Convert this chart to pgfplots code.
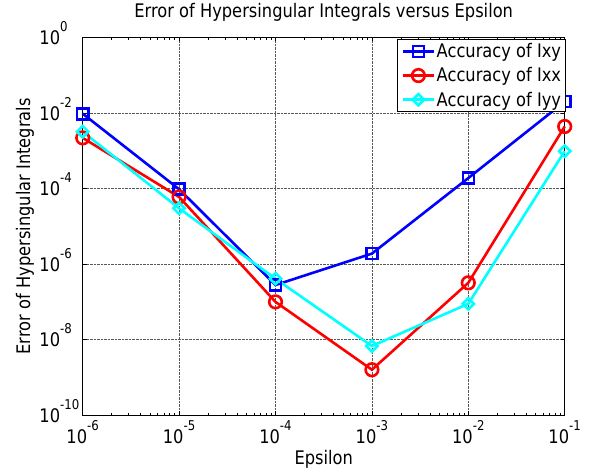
\documentclass[border=0pt]{standalone}
\usepackage{fontspec}
\setmainfont{DejaVu Sans}[FakeStretch=0.87]
\usepackage{pgfplots}
\pgfplotsset{compat=1.18}
\definecolor{mcyan}{rgb}{0,1,1}
\newcommand{\ep}[1]{10\raisebox{12.8bp}{\fontsize{13.5bp}{13.5bp}\selectfont #1}}
\newcommand{\fs}{\fontsize{18.7bp}{22bp}\selectfont}
\newcommand{\legtxt}[1]{\makebox[123.5bp][l]{#1}}
\begin{document}
\begin{tikzpicture}[font=\fs, trim left={(-82.7bp,0)}, trim right={(507.3bp,0)}]
\begin{axis}[
  set layers,
  at={(0,0)}, anchor=south west,
  scale only axis, width=482bp, height=377.7bp,
  xmode=log, ymode=log,
  xmin=1e-6, xmax=1e-1, ymin=1e-10, ymax=1,
  xtick={1e-6,1e-5,1e-4,1e-3,1e-2,1e-1},
  xticklabels={\ep{-6},\ep{-5},\ep{-4},\ep{-3},\ep{-2},\ep{-1}},
  ytick={1e-10,1e-8,1e-6,1e-4,1e-2,1},
  yticklabels={\ep{-10},\ep{-8},\ep{-6},\ep{-4},\ep{-2},\ep{0}},
  xticklabel style={anchor=base, inner sep=0pt, yshift=-28.5bp, font=\fs},
  yticklabel style={anchor=base west, inner sep=0pt, xshift=-43.4bp, yshift=-7bp, font=\fs},
  grid=major,
  major grid style={densely dotted, black!65, line width=0.6bp},
  axis line style={line width=0.7bp},
  tick style={black, line width=0.6bp},
  major tick length=4bp, minor tick length=2.5bp,
  title={Error of Hypersingular Integrals versus Epsilon},
  title style={at={(axis description cs:0.5,1)}, anchor=base, yshift=14bp, font=\fs},
  xlabel={Epsilon},
  xlabel style={at={(axis description cs:0.5,-0.1313)}, anchor=base, font=\fs},
  ylabel={Error of Hypersingular Integrals},
  ylabel style={at={(axis description cs:-0.1093,0.5)}, anchor=base, font=\fs},
  clip=false,
  legend style={at={(axis description cs:0.6527,0.9955)}, anchor=north west,
    draw=black, line width=0.6bp, fill=white, font=\fs,
    inner xsep=4bp, inner ysep=3bp, row sep=6.5bp,
    nodes={inner xsep=1.5bp, inner ysep=1bp},
    cells={anchor=west}},
  legend image code/.code={\draw[mark repeat=2,mark phase=2,#1] plot coordinates {(0bp,0bp)(15.5bp,0bp)(31bp,0bp)};},
]
\addplot[blue, line width=2.6bp, mark=square, mark size=5.5bp, mark options={solid}]
  coordinates {(1e-6,9.6e-3) (1e-5,9.6e-5) (1e-4,2.8e-7) (1e-3,1.9e-6) (1e-2,1.9e-4) (1e-1,2e-2)};
\addlegendentry{\legtxt{Accuracy of Ixy}}
\addplot[red, line width=2.6bp, mark=o, mark size=6.3bp, mark options={solid}]
  coordinates {(1e-6,2.2e-3) (1e-5,6e-5) (1e-4,1e-7) (1e-3,1.6e-9) (1e-2,3.2e-7) (1e-1,4.4e-3)};
\addlegendentry{\legtxt{Accuracy of Ixx}}
\addplot[mcyan, line width=2.6bp, mark=square, mark size=4bp, mark options={solid, rotate=45}]
  coordinates {(1e-6,3.2e-3) (1e-5,3e-5) (1e-4,4.1e-7) (1e-3,6.8e-9) (1e-2,8.9e-8) (1e-1,9.8e-4)};
\addlegendentry{\legtxt{Accuracy of Iyy}}
\end{axis}
\path (-82.7bp,-58.3bp) rectangle (507.3bp,412.7bp);
\end{tikzpicture}
\end{document}
